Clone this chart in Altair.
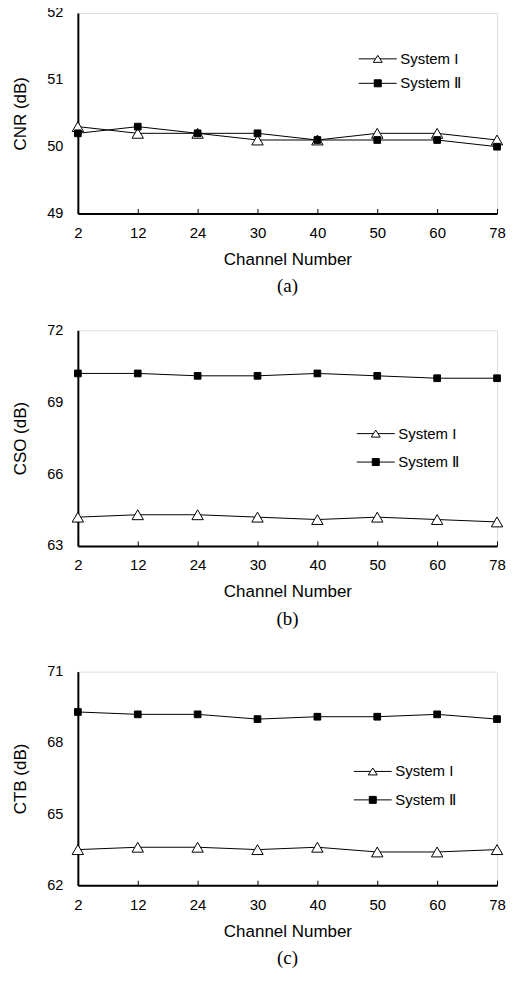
import altair as alt
import pandas as pd

channels = ["2", "12", "24", "30", "40", "50", "60", "78"]
series_names = ["System I", "System Ⅱ"]

cnr_sys1 = [50.3, 50.2, 50.2, 50.1, 50.1, 50.2, 50.2, 50.1]
cnr_sys2 = [50.2, 50.3, 50.2, 50.2, 50.1, 50.1, 50.1, 50.0]

cso_sys1 = [64.2, 64.3, 64.3, 64.2, 64.1, 64.2, 64.1, 64.0]
cso_sys2 = [70.2, 70.2, 70.1, 70.1, 70.2, 70.1, 70.0, 70.0]

ctb_sys1 = [63.5, 63.6, 63.6, 63.5, 63.6, 63.4, 63.4, 63.5]
ctb_sys2 = [69.3, 69.2, 69.2, 69.0, 69.1, 69.1, 69.2, 69.0]

cnr_ticks = [49, 50, 51, 52]
cso_ticks = [63, 66, 69, 72]
ctb_ticks = [62, 65, 68, 71]

# legend symbols: line segment with marker (custom SVG paths, unit = sqrt(size)/2)
LEG_TRI = "M-3.8,0 L-0.45,0 M0.45,0 L3.8,0 M0,-0.7 L0.9,0.7 L-0.9,0.7 Z"
LEG_SQ = "M-3.8,0 L3.8,0 M-0.7,-0.7 L0.7,-0.7 L0.7,0.7 L-0.7,0.7 Z"

SANS = "Liberation Sans"
SERIF = "Liberation Serif"


def panel(ytitle, ticks, s1, s2, height, caption, legx, legy, rowpad):
    df = pd.DataFrame({
        "channel": channels * 2,
        "series": [series_names[0]] * len(channels) + [series_names[1]] * len(channels),
        "value": list(s1) + list(s2),
    })
    x = alt.X(
        "channel:O", sort=channels,
        scale=alt.Scale(type="point", padding=0),
        axis=alt.Axis(
            title="Channel Number", labelAngle=0, grid=False,
            domainColor="black", domainWidth=2,
            ticks=True, tickColor="black", tickWidth=1,
            tickSize=alt.ExprRef(expr="-5"),
            labelFont=SANS, labelFontSize=15, labelColor="black", labelPadding=17,
            titleFont=SANS, titleFontSize=17, titleFontWeight="normal",
            titleColor="black", titlePadding=11,
        ),
    )
    y = alt.Y(
        "value:Q",
        scale=alt.Scale(domain=[ticks[0], ticks[-1]], nice=False, zero=False),
        axis=alt.Axis(
            values=ticks, title=ytitle, grid=False, ticks=False,
            domainColor="black", domainWidth=2,
            labelFont=SANS, labelFontSize=14.5, labelColor="black", labelPadding=15,
            titleFont=SANS, titleFontSize=17, titleFontWeight="normal",
            titleColor="black", titlePadding=17,
        ),
    )
    base = alt.Chart(df)
    lines = base.mark_line(color="black", strokeWidth=1).encode(
        x=x, y=y, detail="series:N"
    )
    tri = base.transform_filter(alt.datum.series == series_names[0]).mark_point(
        shape="triangle-up", size=130, filled=True, fill="white",
        stroke="black", strokeWidth=1, opacity=1
    ).encode(x=x, y=y)
    sq = base.transform_filter(alt.datum.series == series_names[1]).mark_point(
        shape="square", size=45, filled=True, fill="black",
        stroke="black", strokeWidth=1, opacity=1
    ).encode(x=x, y=y)
    leg = alt.Legend(
        title=None, orient="none", legendX=legx, legendY=legy,
        labelFont=SANS, labelFontSize=15, labelColor="black",
        labelOffset=15, rowPadding=rowpad, symbolSize=100,
        symbolStrokeWidth=1, padding=0,
    )
    legend_layer = base.transform_filter("false").mark_point(
        filled=True, stroke="black", strokeWidth=1, opacity=1, size=100
    ).encode(
        shape=alt.Shape("series:N", scale=alt.Scale(domain=series_names, range=[LEG_TRI, LEG_SQ]), legend=leg),
        fill=alt.Fill("series:N", scale=alt.Scale(domain=series_names, range=["white", "black"]), legend=leg),
    )
    return alt.layer(lines, tri, sq, legend_layer).properties(
        width=420, height=height,
        title=alt.TitleParams(
            caption, orient="bottom", font=SERIF, fontSize=19,
            fontWeight="normal", color="black", offset=10, frame="group",
        ),
    )


pa = panel("CNR (dB)", cnr_ticks, cnr_sys1, cnr_sys2, 201, "(a)", 293, 38.5, 8.5)
pb = panel("CSO (dB)", cso_ticks, cso_sys1, cso_sys2, 216, "(b)", 291, 96, 12.5)
pc = panel("CTB (dB)", ctb_ticks, ctb_sys1, ctb_sys2, 214, "(c)", 288, 92.5, 12.5)

top = alt.vconcat(pa, pb, spacing=24).resolve_scale(
    shape="independent", fill="independent"
).resolve_legend(shape="independent", fill="independent")

chart = alt.vconcat(top, pc, spacing=33).resolve_scale(
    shape="independent", fill="independent"
).resolve_legend(shape="independent", fill="independent").properties(
    padding={"left": 3, "top": -5, "right": 0, "bottom": 0}
).configure_view(
    stroke="black", strokeWidth=1
).configure(background="white")

chart.save("out.html", embed_options={"renderer": "svg", "actions": False})
